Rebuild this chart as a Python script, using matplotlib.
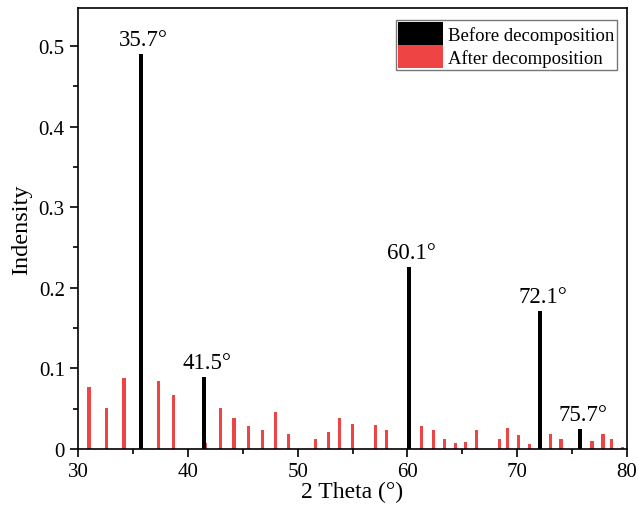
import matplotlib
matplotlib.use("Agg")
import matplotlib.pyplot as plt
from matplotlib.ticker import MultipleLocator

plt.rcParams["font.family"] = ["Liberation Serif", "DejaVu Serif"]

# peak positions (2 theta, deg) and intensities
before_x = [35.7, 41.5, 60.1, 72.1, 75.7]
before_y = [0.49, 0.089, 0.226, 0.171, 0.025]
peak_labels = ["35.7°", "41.5°", "60.1°", "72.1°", "75.7°"]

after_x = [31.0, 32.6, 34.2, 35.7, 37.3, 38.7, 41.6, 43.0, 44.2, 45.5,
           46.8, 48.0, 49.2, 51.6, 52.8, 53.8, 55.0, 57.1, 58.1, 60.1,
           61.3, 62.4, 63.4, 64.4, 65.3, 66.3, 68.4, 69.1, 70.1, 71.1,
           72.1, 73.0, 74.0, 76.8, 77.8, 78.6, 79.6]
after_y = [0.077, 0.051, 0.088, 0.016, 0.084, 0.067, 0.008, 0.051, 0.038, 0.028,
           0.023, 0.046, 0.019, 0.012, 0.021, 0.039, 0.031, 0.030, 0.023, 0.007,
           0.028, 0.024, 0.013, 0.008, 0.009, 0.023, 0.013, 0.026, 0.017, 0.006,
           0.005, 0.018, 0.013, 0.010, 0.018, 0.013, 0.003]

fig = plt.figure(figsize=(6.38, 5.06), dpi=100)
ax = fig.add_axes([0.1223, 0.1107, 0.8605, 0.8715])

ax.bar(after_x, after_y, width=0.3, color="#EE4444", label="After decomposition", zorder=2)
ax.bar(before_x, before_y, width=0.36, color="black", label="Before decomposition", zorder=3)

for x, y, s in zip(before_x, before_y, peak_labels):
    ax.annotate(s, (x, y), xytext=(3, 9), textcoords="offset pixels",
                ha="center", va="baseline", fontsize=16.5)

ax.set_xlim(30, 80)
ax.set_ylim(0, 0.547)
ax.xaxis.set_major_locator(MultipleLocator(10))
ax.xaxis.set_minor_locator(MultipleLocator(5))
ax.yaxis.set_minor_locator(MultipleLocator(0.05))
ax.set_yticks([0, 0.1, 0.2, 0.3, 0.4, 0.5])
ax.set_yticklabels(["0", "0.1", "0.2", "0.3", "0.4", "0.5"])
ax.tick_params(which="both", direction="out", width=1.2, labelsize=15)
ax.tick_params(which="major", length=6)
ax.tick_params(which="minor", length=3.5)
for sp in ax.spines.values():
    sp.set_linewidth(1.2)

ax.set_xlabel("2 Theta (°)", fontsize=17, labelpad=0)
ax.set_ylabel("Indensity", fontsize=17.5, labelpad=5)

handles, labels = ax.get_legend_handles_labels()
leg = ax.legend(handles[::-1], labels[::-1], loc="upper right",
                bbox_to_anchor=(0.981, 0.972), fontsize=13.5,
                handlelength=2.4, handleheight=1.5, labelspacing=0.0,
                handletextpad=0.3, borderpad=0.1, borderaxespad=0.0,
                fancybox=False, framealpha=1)
leg.get_frame().set_edgecolor("#777777")
leg.get_frame().set_linewidth(1.0)

fig.savefig("out.png", dpi=100)
